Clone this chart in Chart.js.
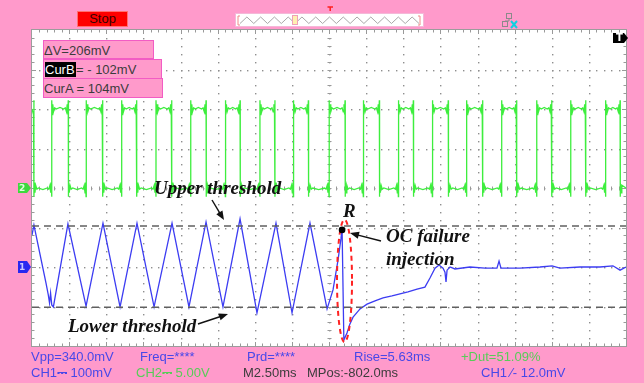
<!DOCTYPE html>
<html>
<head>
<meta charset="utf-8">
<title>CH1 / CH2 capture</title>
<script src="https://cdn.jsdelivr.net/npm/chart.js@4.4.1/dist/chart.umd.min.js"></script>
<style>
  html, body { margin:0; padding:0; background:#FF9ACB; overflow:hidden; }
  #scope { position:relative; width:644px; height:383px; background:#FF9ACB; }
  #scope canvas { position:absolute; left:0; top:0; }
  .ui { position:absolute; font-family:"Liberation Sans", Arial, sans-serif; font-size:13px; line-height:13px; white-space:nowrap; }
  .note { position:absolute; font-family:"Liberation Serif", "Times New Roman", serif; font-style:italic; font-weight:bold; font-size:19px; line-height:19px; color:#111; white-space:nowrap; }
  .blue { color:#4848E8; }
  .green { color:#58CC58; }
  .dark { color:#3C3C3C; }
  .box { position:absolute; background:#FF9ACB; border:1px solid #F25CC4; box-sizing:border-box; }
  .hl { position:absolute; background:#000; color:#fff; }
  .stop { position:absolute; left:77px; top:11px; width:51px; height:16px; background:#FF0000; border:1px solid #FF7070; box-sizing:border-box; color:#3A0000; text-align:center; font-family:"Liberation Sans", Arial, sans-serif; font-size:13px; line-height:14px; }
  .mk { position:absolute; font-family:"DejaVu Sans", sans-serif; font-weight:bold; font-size:9px; line-height:10px; }
</style>
</head>
<body>
<div id="scope">
  <canvas id="c" width="644" height="383"></canvas>

  <div class="stop">Stop</div>

  <div class="box" style="left:43px;top:40px;width:111px;height:19px"></div>
  <div class="ui dark" id="dv" style="left:44px;top:44px"></div>
  <div class="box" style="left:43px;top:59px;width:119px;height:20px"></div>
  <div class="ui hl" style="left:45px;top:62px;width:31px;height:15px;line-height:15px">CurB</div>
  <div class="ui dark" id="curB" style="left:76px;top:63px"></div>
  <div class="box" style="left:43px;top:78px;width:120px;height:20px"></div>
  <div class="ui dark" id="curA" style="left:44px;top:82px"></div>

  <div class="ui blue" style="left:31px;top:350px">Vpp=340.0mV</div>
  <div class="ui blue" style="left:140px;top:350px">Freq=****</div>
  <div class="ui blue" style="left:247px;top:350px">Prd=****</div>
  <div class="ui blue" style="left:354px;top:350px">Rise=5.63ms</div>
  <div class="ui green" style="left:461px;top:350px">+Dut=51.09%</div>
  <div class="ui blue" style="left:31px;top:366px">CH1⎓ 100mV</div>
  <div class="ui green" style="left:136px;top:366px">CH2⎓ 5.00V</div>
  <div class="ui dark" style="left:243px;top:366px">M2.50ms</div>
  <div class="ui dark" style="left:307px;top:366px">MPos:-802.0ms</div>
  <div class="ui blue" style="left:481px;top:366px">CH1 ∕- 12.0mV</div>

  <div class="note" style="left:154px;top:178px">Upper threshold</div>
  <div class="note" style="left:68px;top:316px">Lower threshold</div>
  <div class="note" style="left:343px;top:201px">R</div>
  <div class="note" style="left:386px;top:226px">OC failure</div>
  <div class="note" style="left:386px;top:249px">injection</div>

  <div class="mk" id="mk2" style="color:#DDFFDD">2</div>
  <div class="mk" id="mk1" style="color:#C8C8FF">1</div>
  <div class="mk" style="left:616px;top:33px;color:#fff;font-size:10px">T</div>
</div>

<script>
// Front-panel settings
const timeDivMs = 2.5;          // M 2.50ms
const hDivs = 16;
const vDivs = 8;
const ch1MvPerDiv = 100;        // CH1 100mV
const ch2VPerDiv = 5;           // CH2 5.00V
const ch1GroundDiv = -2;        // CH1 ground marker, divisions from centre
const ch2GroundDiv = 0;         // CH2 ground marker

// Cursor readings (mV on CH1)
const cursorA = 104;
const cursorB = -102;

// CH1: converter current sense (ms, mV)
const ch1Ms = [0.00, 0.13, 0.94, 1.10, 1.18, 1.25, 1.33, 1.44, 2.42, 3.64, 4.78, 5.93, 7.07, 8.22,
  9.43, 10.57, 11.72, 12.86, 14.01, 15.15, 16.43, 17.51, 18.72, 19.87, 20.27, 20.61, 20.81, 20.88,
  21.00, 21.21, 21.41, 21.62, 22.09, 22.56, 23.10, 23.64, 24.24, 24.78, 25.32, 25.93, 26.46, 26.80,
  27.14, 27.41, 27.68, 27.81, 27.88, 27.95, 28.15, 28.48, 29.49, 30.51, 31.31, 31.45, 31.58, 32.86,
  34.21, 35.02, 35.55, 36.90, 38.25, 39.12, 39.60, 40.00];
const ch1Mv = [81, 106, -40, -71, -91, -66, -96, -101, 109, -99, 111, -101, 111, -101,
  111, -101, 114, -101, 122, -116, 111, -116, 111, -106, -58, 18, 73, 99,
  -185, -167, -144, -127, -106, -94, -86, -78, -73, -68, -63, -56, -51, -28,
  -3, 5, -3, -13, -38, -8, 0, -5, 0, -3, -3, 15, -3, -3,
  0, 3, -3, 0, 0, 3, -8, 0];
const failureMs = 20.88;        // instant of the open-circuit fault (point R)

// CH2: gate drive square wave, edge instants in ms
const ch2RiseMs = [1.33, 3.64, 6.04, 8.35, 10.69, 13.02, 15.35, 17.60, 20.00, 22.31, 24.67, 26.96,
  29.27, 31.63, 33.99, 36.28, 38.63];
const ch2FallMs = [0.13, 2.44, 4.76, 7.05, 9.41, 11.72, 14.01, 16.36, 18.61, 21.08, 23.39, 25.68,
  28.03, 30.35, 32.64, 35.00, 37.29, 39.60];
const ch2LowV = 0;
const ch2HighV = 10;
// ringing seen after / before each edge: [ms from edge, V away from the level]
const ch2RingStart = [[0.00, 1.1], [0.03, -0.7], [0.07, 0.6], [0.12, -0.35], [0.20, 0.15], [0.30, 0]];
const ch2RingEnd = [[-0.30, 0], [-0.20, 0.15], [-0.12, -0.35], [-0.07, 0.6], [-0.03, -0.7], [0.00, 1.1]];
const ch2MidBump = 0.2;

const spanMs = hDivs * timeDivMs;

// ---- build the point tables ----
const ch1Points = ch1Ms.map((t, i) => ({ x: t, y: ch1Mv[i] }));

const edges = ch2RiseMs.map(t => ({ t, level: ch2HighV }))
  .concat(ch2FallMs.map(t => ({ t, level: ch2LowV })))
  .sort((a, b) => a.t - b.t);
const ch2Points = [];
let segStart = 0;
let segLevel = edges[0].level === ch2LowV ? ch2HighV : ch2LowV;
const bounds = edges.concat([{ t: spanMs, level: null }]);
bounds.forEach(e => {
  const a = segStart, b = e.t, half = (b - a) / 2;
  const dir = segLevel === ch2HighV ? 1 : -1;
  if (a === 0) ch2Points.push({ x: 0, y: segLevel });
  else ch2RingStart.forEach(([dt, dv]) => { if (dt <= half) ch2Points.push({ x: a + dt, y: segLevel + dir * dv }); });
  if (half > 0.35) ch2Points.push({ x: a + half, y: segLevel + dir * ch2MidBump });
  if (e.level === null) ch2Points.push({ x: spanMs, y: segLevel });
  else ch2RingEnd.forEach(([dt, dv]) => { if (-dt <= half) ch2Points.push({ x: b + dt, y: segLevel + dir * dv }); });
  segStart = b;
  if (e.level !== null) segLevel = e.level;
});

document.getElementById('dv').textContent = '\u0394V=' + (cursorA - cursorB) + 'mV';
document.getElementById('curB').textContent = '= - ' + Math.abs(cursorB) + 'mV';
document.getElementById('curA').textContent = 'CurA = ' + cursorA + 'mV';

// ---- drawing helpers ----
function arrow(ctx, x0, y0, x1, y1) {
  const ang = Math.atan2(y1 - y0, x1 - x0), L = 9, W = 3.6;
  const c = Math.cos(ang), s = Math.sin(ang);
  ctx.beginPath();
  ctx.moveTo(x0, y0);
  ctx.lineTo(x1 - c * L * 0.7, y1 - s * L * 0.7);
  ctx.stroke();
  ctx.beginPath();
  ctx.moveTo(x1, y1);
  ctx.lineTo(x1 - L * c + W * s, y1 - L * s - W * c);
  ctx.lineTo(x1 - L * c - W * s, y1 - L * s + W * c);
  ctx.closePath();
  ctx.fill();
}

const scopePlugin = {
  id: 'scopeScreen',
  beforeDraw(chart) {
    const { ctx, chartArea: a } = chart;
    ctx.save();
    ctx.fillStyle = '#FFFFFF';
    ctx.fillRect(a.left, a.top, a.right - a.left, a.bottom - a.top);

    // memory overview strip
    ctx.fillStyle = '#FFFFFF';
    ctx.fillRect(235, 13, 189, 14);
    ctx.strokeStyle = '#F4B8D8';
    ctx.lineWidth = 1;
    ctx.strokeRect(235.5, 13.5, 188, 13);
    ctx.strokeStyle = '#A8A8A8';
    ctx.beginPath();
    const zz0 = 240, zz1 = 419, n = 26;
    for (let i = 0; i <= n; i++) {
      const xx = zz0 + (zz1 - zz0) * i / n;
      const yy = i % 2 ? 17 : 23.5;
      if (i === 0) ctx.moveTo(xx, yy); else ctx.lineTo(xx, yy);
    }
    ctx.stroke();
    ctx.strokeStyle = '#F08A8A';
    ctx.beginPath();
    ctx.moveTo(240, 16); ctx.lineTo(238, 16); ctx.lineTo(238, 25); ctx.lineTo(240, 25);
    ctx.moveTo(418, 16); ctx.lineTo(420, 16); ctx.lineTo(420, 25); ctx.lineTo(418, 25);
    ctx.stroke();
    ctx.fillStyle = '#FFF0B0';
    ctx.fillRect(293, 15.5, 4, 9);
    ctx.strokeStyle = '#F0A0B8';
    ctx.strokeRect(292.5, 15.5, 5, 9);
    // trigger position flag
    ctx.strokeStyle = '#FF2020';
    ctx.lineWidth = 1.5;
    ctx.beginPath();
    ctx.moveTo(327.5, 7); ctx.lineTo(333, 7);
    ctx.moveTo(330.2, 7); ctx.lineTo(330.2, 11);
    ctx.stroke();

    // USB / link icon
    ctx.lineWidth = 1;
    ctx.strokeStyle = '#8A8A8A';
    ctx.strokeRect(506.5, 13.5, 5, 5);
    ctx.strokeRect(502.5, 21.5, 5, 5);
    ctx.beginPath();
    ctx.moveTo(509, 18.5); ctx.lineTo(509, 21); ctx.lineTo(505, 21);
    ctx.stroke();
    ctx.strokeStyle = '#10D0E0';
    ctx.lineWidth = 2;
    ctx.beginPath();
    ctx.moveTo(511, 21); ctx.lineTo(517, 28);
    ctx.moveTo(517, 21); ctx.lineTo(511, 28);
    ctx.stroke();
    ctx.restore();
  },
  beforeDatasetsDraw(chart) {
    const { ctx, chartArea: a, scales: { x, y } } = chart;
    const xStep = timeDivMs / 5, yStep = ch1MvPerDiv / 5;
    ctx.save();
    // dotted graticule
    ctx.fillStyle = '#8E8E8E';
    for (let k = 1; k < hDivs; k++) {
      const px = Math.round(x.getPixelForValue(k * timeDivMs));
      for (let v = y.min + yStep; v < y.max; v += yStep) {
        ctx.fillRect(px, Math.round(y.getPixelForValue(v)), 1.4, 1.4);
      }
    }
    for (let m = 1; m < vDivs; m++) {
      const py = Math.round(y.getPixelForValue(y.min + m * ch1MvPerDiv));
      for (let t = xStep; t < spanMs; t += xStep) {
        ctx.fillRect(Math.round(x.getPixelForValue(t)), py, 1.4, 1.4);
      }
    }
    // centre axes with fine ticks
    ctx.strokeStyle = '#999999';
    ctx.lineWidth = 1;
    const cx = Math.round(x.getPixelForValue(spanMs / 2)) + 0.5;
    const cy = Math.round(y.getPixelForValue((y.min + y.max) / 2)) + 0.5;
    ctx.beginPath();
    for (let v = y.min + yStep; v < y.max; v += yStep) {
      const py = Math.round(y.getPixelForValue(v)) + 0.5;
      ctx.moveTo(cx - 2, py); ctx.lineTo(cx + 2, py);
    }
    for (let t = xStep; t < spanMs; t += xStep) {
      const px = Math.round(x.getPixelForValue(t)) + 0.5;
      ctx.moveTo(px, cy - 2); ctx.lineTo(px, cy + 2);
    }
    // edge rulers
    for (let t = xStep, i = 1; t < spanMs; t += xStep, i++) {
      const px = Math.round(x.getPixelForValue(t)) + 0.5;
      const len = i % 5 === 0 ? 4 : 2.5;
      ctx.moveTo(px, a.top); ctx.lineTo(px, a.top + len);
      ctx.moveTo(px, a.bottom); ctx.lineTo(px, a.bottom - len);
    }
    for (let v = y.min + yStep, i = 1; v < y.max; v += yStep, i++) {
      const py = Math.round(y.getPixelForValue(v)) + 0.5;
      const len = i % 5 === 0 ? 4 : 2.5;
      ctx.moveTo(a.left, py); ctx.lineTo(a.left + len, py);
      ctx.moveTo(a.right, py); ctx.lineTo(a.right - len, py);
    }
    ctx.stroke();
    ctx.strokeStyle = '#9C9C9C';
    ctx.strokeRect(a.left - 0.5, a.top - 0.5, a.right - a.left + 1, a.bottom - a.top + 1);
    ctx.restore();
  },
  afterDatasetsDraw(chart) {
    const { ctx, chartArea: a, scales: { x, y, y2 } } = chart;
    ctx.save();
    // fault marker: ellipse and point R
    const rIdx = ch1Ms.indexOf(failureMs);
    const rx = x.getPixelForValue(ch1Ms[rIdx]), ry = y.getPixelForValue(ch1Mv[rIdx]);
    const eL = x.getPixelForValue(20.54), eR = x.getPixelForValue(21.55);
    const eT = y.getPixelForValue(120), eB = y.getPixelForValue(-190);
    ctx.strokeStyle = '#FF2222';
    ctx.lineWidth = 2;
    ctx.setLineDash([5, 4]);
    ctx.beginPath();
    ctx.ellipse((eL + eR) / 2, (eT + eB) / 2, (eR - eL) / 2, (eB - eT) / 2, 0, 0, Math.PI * 2);
    ctx.stroke();
    ctx.setLineDash([]);
    ctx.fillStyle = '#000';
    ctx.beginPath();
    ctx.arc(rx, ry + 2, 3.3, 0, Math.PI * 2);
    ctx.fill();

    // callout arrows
    ctx.strokeStyle = '#111';
    ctx.fillStyle = '#111';
    ctx.lineWidth = 1.4;
    arrow(ctx, 212, 200, 224, 220);
    arrow(ctx, 198, 324, 228, 314);
    arrow(ctx, 381, 241, 350, 233);

    // channel ground markers
    const g2 = y2.getPixelForValue(ch2GroundDiv * ch2VPerDiv);
    const g1 = y.getPixelForValue(0);
    ctx.fillStyle = '#3ED83E';
    ctx.beginPath();
    ctx.moveTo(18, g2 - 5); ctx.lineTo(27, g2 - 5); ctx.lineTo(31, g2); ctx.lineTo(27, g2 + 5); ctx.lineTo(18, g2 + 5);
    ctx.closePath(); ctx.fill();
    ctx.fillStyle = '#2828F0';
    ctx.beginPath();
    ctx.moveTo(18, g1 - 6); ctx.lineTo(27, g1 - 6); ctx.lineTo(31, g1); ctx.lineTo(27, g1 + 6); ctx.lineTo(18, g1 + 6);
    ctx.closePath(); ctx.fill();
    // trigger-level tab at the top right
    ctx.fillStyle = '#000';
    ctx.beginPath();
    ctx.moveTo(613, 33); ctx.lineTo(624, 33); ctx.lineTo(628, 38); ctx.lineTo(624, 43); ctx.lineTo(613, 43);
    ctx.closePath(); ctx.fill();
    ctx.restore();

    const m2 = document.getElementById('mk2');
    m2.style.left = '19px'; m2.style.top = (g2 - 5) + 'px';
    const m1 = document.getElementById('mk1');
    m1.style.left = '19px'; m1.style.top = (g1 - 5) + 'px';
  }
};

new Chart(document.getElementById('c'), {
  type: 'line',
  data: {
    datasets: [
      { label: 'CurA', data: [{ x: 0, y: cursorA }, { x: spanMs, y: cursorA }], yAxisID: 'y',
        borderColor: '#606060', borderWidth: 1.5, borderDash: [7, 5], pointRadius: 0 },
      { label: 'CurB', data: [{ x: 0, y: cursorB }, { x: spanMs, y: cursorB }], yAxisID: 'y',
        borderColor: '#606060', borderWidth: 1.5, borderDash: [7, 5], pointRadius: 0 },
      { label: 'CH1', data: ch1Points, yAxisID: 'y',
        borderColor: '#3C3CF2', borderWidth: 1.3, pointRadius: 0, tension: 0 },
      { label: 'CH2', data: ch2Points, yAxisID: 'y2',
        borderColor: '#3EEE3E', borderWidth: 1.3, pointRadius: 0, tension: 0 }
    ]
  },
  options: {
    responsive: false,
    animation: false,
    devicePixelRatio: 1,
    layout: { padding: { left: 32, right: 18, top: 30, bottom: 37 } },
    plugins: { legend: { display: false }, tooltip: { enabled: false } },
    scales: {
      x: { type: 'linear', min: 0, max: spanMs, display: false },
      y: { type: 'linear', min: (-vDivs / 2 - ch1GroundDiv) * ch1MvPerDiv, max: (vDivs / 2 - ch1GroundDiv) * ch1MvPerDiv, display: false },
      y2: { type: 'linear', min: (-vDivs / 2 - ch2GroundDiv) * ch2VPerDiv, max: (vDivs / 2 - ch2GroundDiv) * ch2VPerDiv, display: false }
    }
  },
  plugins: [scopePlugin]
});
</script>
</body>
</html>
